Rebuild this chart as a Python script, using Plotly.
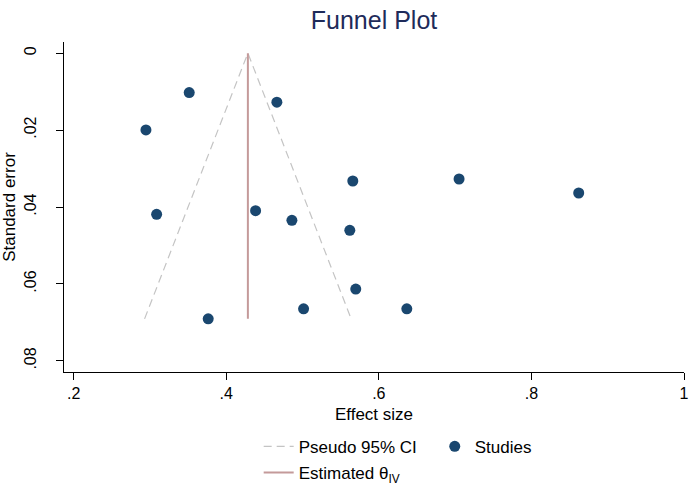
import plotly.graph_objects as go

# Study data
effect = [0.3515, 0.4664, 0.2948, 0.5659, 0.7052, 0.8620, 0.3088,
          0.4385, 0.4861, 0.5620, 0.5698, 0.5014, 0.6367, 0.3764]
std_err = [0.01025, 0.01275, 0.01996, 0.03324, 0.03272, 0.03636, 0.04191,
           0.04097, 0.04347, 0.04607, 0.06135, 0.06648, 0.06648, 0.06908]
theta_iv = 0.4284
z_crit = 1.96

x_ticks = [0.2, 0.4, 0.6, 0.8, 1.0]
x_ticktext = [".2", ".4", ".6", ".8", "1"]
y_ticks = [0, 0.02, 0.04, 0.06, 0.08]
y_ticktext = ["0", ".02", ".04", ".06", ".08"]

se_max = max(std_err)
ci_x = [theta_iv - z_crit * se_max, theta_iv, theta_iv + z_crit * se_max]
ci_y = [se_max, 0, se_max]

FONT = "Liberation Sans, Arial, sans-serif"

fig = go.Figure()
fig.add_trace(go.Scatter(
    x=ci_x, y=ci_y, mode="lines", name="Pseudo 95% CI",
    line=dict(color="#c4c4c4", width=1.2, dash="8px,5px"),
    legend="legend", legendgroup="a", hoverinfo="skip"))
fig.add_trace(go.Scatter(
    x=[theta_iv, theta_iv], y=[0, se_max], mode="lines",
    name="Estimated θ<sub>IV</sub>",
    line=dict(color="#c49a9a", width=2),
    legend="legend", legendgroup="b", hoverinfo="skip"))
fig.add_trace(go.Scatter(
    x=effect, y=std_err, mode="markers", name="Studies",
    marker=dict(color="#1a476f", size=11),
    legend="legend2"))

axis_common = dict(
    showgrid=False, zeroline=False, showline=True, linecolor="#000000",
    linewidth=1, ticks="outside", ticklen=7, tickcolor="#000000",
    ticklabeloverflow="allow",
    tickfont=dict(family=FONT, size=16, color="#000000"),
)

fig.update_layout(
    width=689, height=484,
    paper_bgcolor="white", plot_bgcolor="white",
    font=dict(family=FONT, size=16, color="#000000"),
    margin=dict(l=64, r=5, t=42, b=112, autoexpand=False),
    title=dict(text="Funnel Plot", x=0.5, xref="paper", xanchor="center",
               y=0.959, yref="container", yanchor="middle",
               font=dict(family=FONT, size=25, color="#1e2b5a")),
    xaxis=dict(range=[0.1874, 1.0], tickvals=x_ticks, ticktext=x_ticktext,
               title=dict(text="Effect size", standoff=6,
                          font=dict(family=FONT, size=17)),
               **axis_common),
    yaxis=dict(range=[0.0829, -0.0029], tickvals=y_ticks, ticktext=y_ticktext,
               tickangle=-90, ticklabelstandoff=14,
               title=dict(text="Standard error", standoff=4,
                          font=dict(family=FONT, size=17)),
               **axis_common),
    showlegend=True,
    legend=dict(x=0.314, xanchor="left", y=-0.172, yanchor="top",
                orientation="v", tracegroupgap=1, bgcolor="rgba(0,0,0,0)",
                font=dict(family=FONT, size=17, color="#000000")),
    legend2=dict(x=0.598, xanchor="left", y=-0.172, yanchor="top",
                 orientation="v", bgcolor="rgba(0,0,0,0)",
                 font=dict(family=FONT, size=17, color="#000000")),
)

fig.write_html(
    "out.html",
    config={"displayModeBar": False},
    post_script="document.body.style.margin='0px';document.body.style.overflow='hidden';",
)
